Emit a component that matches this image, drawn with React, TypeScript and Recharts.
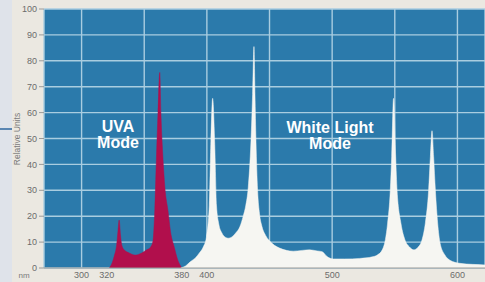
import { ComposedChart, Area, XAxis, YAxis, CartesianGrid } from "recharts";

// wavelength (nm) / relative units
const uvaNm = [322, 324, 326, 328, 329, 330, 331, 332, 334, 338, 343, 348, 352, 355, 357, 358.4, 359.7, 361, 362.4, 363.3, 365, 366.5, 369, 371, 374, 376.5, 380];
const uvaVal = [0, 1.5, 4.5, 9, 14, 18.5, 13, 9, 7, 5.8, 5, 5.8, 7, 8, 10.5, 22, 42, 60, 75.5, 60, 42, 31, 22, 14, 8, 3.5, 0];

const whiteNm = [
  379, 383, 387, 391, 394, 397, 399.7, 401.9, 403.2, 404.6, 406.2, 407.7, 409.5, 412, 415, 417, 420, 423, 426.4, 429, 431, 433,
  435.2, 436.5, 437.6, 438.4, 439.2, 440.5, 442, 444, 447, 450, 458, 469, 476, 482, 488, 492, 496, 501, 510, 522, 532, 536,
  540, 542.5, 544.2, 546.4, 547.5, 549, 550.7, 551.8, 555, 558, 562, 565, 568.5, 571.7, 574.4, 577, 578.4, 579.7, 581, 582.4,
  584.2, 586.2, 590, 594, 602, 612, 622,
];
const whiteVal = [
  0, 0.8, 2.5, 4, 5.8, 8, 12, 24, 49, 65.5, 49, 24, 17, 13.5, 11.8, 11.5, 12, 13.5, 16, 20, 24, 31,
  49, 67, 85.5, 67, 49, 30, 21, 16, 12.5, 10.5, 7.7, 6.5, 6.8, 7, 6.6, 6.3, 4.4, 3.5, 3.5, 3.7, 4.3, 5,
  7, 11, 17, 30, 43, 65.5, 43, 30, 17, 11, 8, 7, 8, 10.8, 17.4, 30, 43, 53, 43, 30,
  17.4, 9.5, 5, 3, 1.8, 1.4, 1.2,
];

const xTicks = [300, 320, 380, 400, 500, 600];
const gridNm = [300, 350, 400, 450, 500, 550, 600];
const yTicks = [0, 10, 20, 30, 40, 50, 60, 70, 80, 90, 100];

const uvaData = uvaNm.map((nm, i) => ({ nm, v: uvaVal[i] }));
const whiteData = whiteNm.map((nm, i) => ({ nm, v: whiteVal[i] }));

const W = 485;
const H = 282;
const font = "'Liberation Sans', Arial, sans-serif";

export default function App() {
  return (
    <div style={{ position: "fixed", left: 0, top: 0, width: W, height: H, background: "#ebe8e1", overflow: "hidden" }}>
      {/* page strip on the far left */}
      <div style={{ position: "absolute", left: 0, top: 0, width: 12, height: H, background: "#dfe3ea" }} />
      <div style={{ position: "absolute", left: 0, top: 128, width: 12, height: 1.5, background: "#5a86b2" }} />

      <ComposedChart width={W} height={H} margin={{ top: 9, right: 0, bottom: 0, left: 0 }} style={{ position: "absolute", left: 0, top: 0 }}>
        <XAxis
          dataKey="nm"
          type="number"
          domain={[270, 622]}
          allowDataOverflow
          ticks={xTicks}
          tickLine={false}
          axisLine={{ stroke: "#9c9a96", strokeWidth: 1 }}
          tick={{ fill: "#6c6c6c", fontSize: 9, fontFamily: font }}
          tickSize={2}
          tickMargin={2}
          height={14}
          interval={0}
        />
        <XAxis xAxisId="grid" dataKey="nm" type="number" domain={[270, 622]} allowDataOverflow ticks={gridNm} hide />
        <YAxis
          type="number"
          domain={[0, 100]}
          ticks={yTicks}
          interval={0}
          width={44}
          axisLine={false}
          tickLine={{ stroke: "#9a9a9a" }}
          tickSize={5}
          tickMargin={2}
          tick={{ fill: "#6c6c6c", fontSize: 9, fontFamily: font }}
        />
        <CartesianGrid xAxisId="grid" fill="#2b7aab" fillOpacity={1} stroke="#a9cde0" strokeWidth={1.4} />
        <Area
          data={uvaData}
          dataKey="v"
          type="monotone"
          fill="#b10f4c"
          fillOpacity={1}
          stroke="#b10f4c"
          strokeWidth={0.5}
          isAnimationActive={false}
          dot={false}
          activeDot={false}
        />
        <Area
          data={whiteData}
          dataKey="v"
          type="monotone"
          fill="#f6f6f2"
          fillOpacity={1}
          stroke="#f6f6f2"
          strokeWidth={0.5}
          isAnimationActive={false}
          dot={false}
          activeDot={false}
        />
      </ComposedChart>

      <svg width={W} height={H} style={{ position: "absolute", left: 0, top: 0, pointerEvents: "none" }}>
        <text x={17} y={139} transform="rotate(-90 17 139)" textAnchor="middle" dominantBaseline="central" fontFamily={font} fontSize={8.5} fill="#7a7a7a">
          Relative Units
        </text>
        <text x={24} y={278} textAnchor="middle" fontFamily={font} fontSize={8} fill="#7a7a7a">
          nm
        </text>
        <g fontFamily={font} fontWeight="bold" fontSize={16} fill="#ffffff" textAnchor="middle">
          <text x={118} y={132}>UVA</text>
          <text x={118} y={148}>Mode</text>
          <text x={330} y={133}>White Light</text>
          <text x={330} y={149}>Mode</text>
        </g>
      </svg>
    </div>
  );
}
